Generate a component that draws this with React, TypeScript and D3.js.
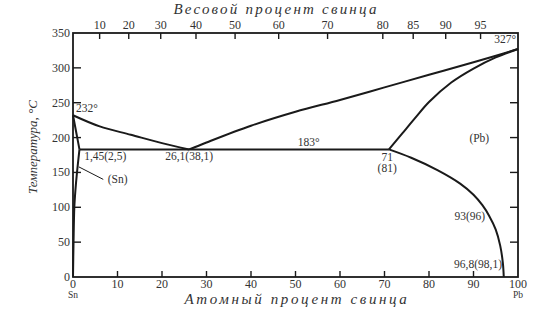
import React from "react";
import * as d3 from "d3";

// ---- data (atomic % Pb, temperature °C) ----
const atomicTicks = [0, 10, 20, 30, 40, 50, 60, 70, 80, 90, 100];
const weightTicks = [10, 20, 30, 40, 50, 60, 70, 80, 85, 90, 95];
const tempTicks = [0, 50, 100, 150, 200, 250, 300, 350];

const liquidusSn: [number, number][] = [[0, 232], [6, 216], [13, 204], [20, 192], [26.1, 183]];
const liquidusPb: [number, number][] = [[26.1, 183], [30, 193], [40, 217], [50, 237], [60, 254], [70, 272], [80, 290], [90, 308], [100, 327]];
const solidusPb: [number, number][] = [[71, 183], [74, 206], [77, 229], [80, 251], [85, 279], [90, 299], [95, 315], [100, 327]];
const solvusPb: [number, number][] = [[71, 183], [76, 171], [82, 153], [87, 134], [90, 118], [92, 103], [93.5, 88], [95, 68], [96, 45], [96.6, 20], [96.8, 0]];
const solidusSn: [number, number][] = [[0, 232], [1.45, 183]];
const solvusSn: [number, number][] = [[1.45, 183], [0.9, 150], [0.55, 125], [0.3, 100], [0.12, 50], [0, 0]];
const eutectic: [number, number][] = [[1.45, 183], [71, 183]];

const M_PB = 207.2;
const M_SN = 118.71;
const wtToAt = (w: number) => (100 * (w / M_PB)) / (w / M_PB + (100 - w) / M_SN);

const W = 551, H = 311;
const x = d3.scaleLinear().domain([0, 100]).range([73, 518]);
const y = d3.scaleLinear().domain([0, 350]).range([277, 33]);

const lineGen = d3.line<[number, number]>().x(d => x(d[0])).y(d => y(d[1])).curve(d3.curveCatmullRom.alpha(0.5));
const straight = d3.line<[number, number]>().x(d => x(d[0])).y(d => y(d[1]));

const serif = "'Liberation Serif', 'Times New Roman', 'DejaVu Serif', serif";
const ink = "#1a1a1a";
const txt = "#333";

export default function App() {
  const curves = [liquidusSn, liquidusPb, solidusPb, solvusPb, solvusSn];
  return (
    <svg width={W} height={H} style={{ position: "absolute", left: 0, top: 0, background: "#fff", fontFamily: serif }}>
      {/* titles */}
      <text x={276} y={14} textAnchor="middle" fontStyle="italic" fontSize={15} letterSpacing={2.2} fill={txt} style={{ fontFamily: serif }}>Весовой процент свинца</text>
      <text x={297} y={304} textAnchor="middle" fontStyle="italic" fontSize={15} letterSpacing={2.6} fill={txt} style={{ fontFamily: serif }}>Атомный процент свинца</text>
      <text transform={`translate(37,147) rotate(-90)`} textAnchor="middle" fontStyle="italic" fontSize={13} fill={txt} style={{ fontFamily: serif }}>Температура, °С</text>

      {/* frame */}
      <rect x={x(0)} y={y(350)} width={x(100) - x(0)} height={y(0) - y(350)} fill="none" stroke={ink} strokeWidth={1.8} />

      {/* left & right temperature ticks */}
      {tempTicks.map(t => (
        <g key={"t" + t}>
          {t > 0 && t < 350 && <line x1={x(0)} x2={x(0) + 8} y1={y(t)} y2={y(t)} stroke={ink} strokeWidth={1.4} />}
          {t > 0 && t < 350 && <line x1={x(100) - 8} x2={x(100)} y1={y(t)} y2={y(t)} stroke={ink} strokeWidth={1.4} />}
          <text x={x(0) - 3} y={y(t) + 4} textAnchor="end" fontSize={12} fill={txt} style={{ fontFamily: serif }}>{t}</text>
        </g>
      ))}

      {/* bottom atomic ticks */}
      {atomicTicks.map(a => (
        <g key={"a" + a}>
          {a > 0 && a < 100 && <line x1={x(a)} x2={x(a)} y1={y(0)} y2={y(0) - 6} stroke={ink} strokeWidth={1.4} />}
          <text x={x(a)} y={y(0) + 11} textAnchor="middle" fontSize={12} fill={txt} style={{ fontFamily: serif }}>{a}</text>
        </g>
      ))}
      <text x={x(0)} y={y(0) + 21} textAnchor="middle" fontSize={9.5} fill={txt} style={{ fontFamily: serif }}>Sn</text>
      <text x={x(100)} y={y(0) + 21} textAnchor="middle" fontSize={9.5} fill={txt} style={{ fontFamily: serif }}>Pb</text>

      {/* top weight ticks */}
      {weightTicks.map(w => (
        <g key={"w" + w}>
          <line x1={x(wtToAt(w))} x2={x(wtToAt(w))} y1={y(350)} y2={y(350) + 6} stroke={ink} strokeWidth={1.4} />
          <text x={x(wtToAt(w))} y={y(350) - 4} textAnchor="middle" fontSize={12} fill={txt} style={{ fontFamily: serif }}>{w}</text>
        </g>
      ))}

      {/* phase boundaries */}
      {curves.map((c, i) => (
        <path key={"c" + i} d={lineGen(c) || ""} fill="none" stroke={ink} strokeWidth={2} />
      ))}
      <path d={straight(solidusSn) || ""} fill="none" stroke={ink} strokeWidth={2} />
      <path d={straight(eutectic) || ""} fill="none" stroke={ink} strokeWidth={2} />
      {/* (Sn) leader */}
      <line x1={x(1.3)} y1={y(158)} x2={x(6.8)} y2={y(140)} stroke={ink} strokeWidth={1} />

      {/* annotations */}
      <g fontSize={11.5} fill={txt} style={{ fontFamily: serif }}>
        <text x={x(0) + 3} y={y(232) - 3}>232°</text>
        <text x={x(100) - 2} y={y(327) - 6} textAnchor="end">327°</text>
        <text x={x(50.5)} y={y(183) - 3}>183°</text>
        <text x={x(2.5)} y={y(183) + 11}>1,45(2,5)</text>
        <text x={x(26.1)} y={y(183) + 11} textAnchor="middle">26,1(38,1)</text>
        <text x={x(7.8)} y={y(140) + 4}>(Sn)</text>
        <text x={x(70.6)} y={y(183) + 12} textAnchor="middle">71</text>
        <text x={x(70.6)} y={y(183) + 23} textAnchor="middle">(81)</text>
        <text x={x(91.3)} y={y(199) + 4} textAnchor="middle">(Pb)</text>
        <text x={x(92.6)} y={y(88) + 4} textAnchor="end">93(96)</text>
        <text x={x(96.4)} y={y(18) + 4} textAnchor="end">96,8(98,1)</text>
      </g>
    </svg>
  );
}
